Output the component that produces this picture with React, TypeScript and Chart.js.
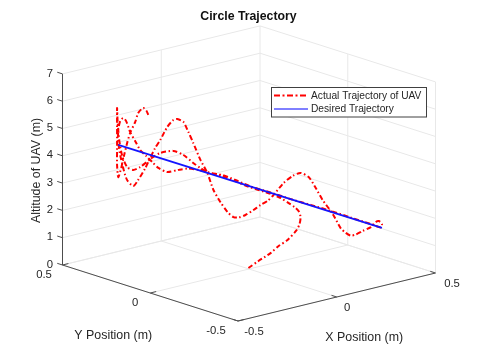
import React, { useEffect, useRef } from "react";
import { Chart, registerables } from "chart.js";

Chart.register(...registerables);

const FONT = '"Liberation Sans", Arial, sans-serif';
const chartTitle = "Circle Trajectory";
const xAxisTitle = "X Position (m)";
const yAxisTitle = "Y Position (m)";
const zAxisTitle = "Altitude of UAV (m)";
const actualLabel = "Actual Trajectory of UAV";
const desiredLabel = "Desired Trajectory";

const xTicks = [-0.5, 0, 0.5];
const yTicks = [0.5, 0, -0.5];
const zTicks = [0, 1, 2, 3, 4, 5, 6, 7];

// Trajectories, as X position and altitude on the plane Y = 0.
const actualX = [
  -0.003, 0.048, 0.109, 0.15, 0.195, 0.241, 0.256, 0.261, 0.251, 0.231, 0.201, 0.16, 0.109, 0.048, -0.013, -0.069,
  -0.135, -0.211, -0.256, -0.307, -0.358, -0.414, -0.459, -0.49, -0.52, -0.551, -0.571, -0.602, -0.622, -0.637,
  -0.652, -0.662, -0.662, -0.652, -0.637, -0.617, -0.586, -0.561, -0.525, -0.5, -0.475, -0.449, -0.414, -0.383,
  -0.363, -0.332, -0.307, -0.282, -0.246, -0.211, -0.18, -0.145, -0.109, -0.079, -0.053, -0.018, 0.023, 0.058,
  0.094, 0.124, 0.175, 0.221, 0.261, 0.302, 0.332, 0.373, 0.424, 0.464, 0.49, 0.515, 0.541, 0.576, 0.617, 0.642,
  0.657, 0.673, 0.668, 0.617, 0.515, 0.414, 0.312, 0.211, 0.109, 0.008, -0.069, -0.135, -0.211, -0.246, -0.282,
  -0.332, -0.383, -0.449, -0.5, -0.551, -0.586, -0.617, -0.642, -0.657, -0.665, -0.668, -0.668, -0.668, -0.668,
  -0.662, -0.647, -0.632, -0.617, -0.602, -0.576, -0.561, -0.536, -0.52, -0.51,
];
const actualZ = [
  0.04, 0.21, 0.39, 0.58, 0.72, 1.0, 1.2, 1.45, 1.68, 1.86, 2.06, 2.32, 2.56, 2.81, 3.06, 3.34, 3.64, 3.92, 4.08,
  4.22, 4.26, 4.28, 4.51, 4.78, 5.05, 5.33, 5.62, 6.08, 6.51, 6.65, 6.57, 6.26, 5.82, 5.32, 4.82, 4.34, 4.07, 4.25,
  4.62, 4.95, 5.27, 5.52, 5.93, 6.13, 6.13, 5.97, 5.56, 5.11, 4.43, 3.89, 3.21, 2.71, 2.28, 2.04, 1.98, 2.01, 2.12,
  2.24, 2.33, 2.49, 2.84, 3.02, 3.06, 2.84, 2.46, 1.87, 1.27, 0.68, 0.46, 0.32, 0.31, 0.38, 0.45, 0.59, 0.6, 0.47,
  0.35, 0.56, 0.98, 1.4, 1.8, 2.19, 2.61, 3.01, 3.38, 3.68, 3.92, 4.13, 4.38, 4.76, 5.0, 5.04, 4.91, 4.7, 4.66, 4.82,
  5.27, 5.88, 6.55, 7.07, 6.34, 5.53, 4.98, 4.53, 4.84, 5.29, 5.7, 6.04, 6.4, 6.7, 6.84, 6.72, 6.54,
];
const desiredX = [-0.662, 0.673];
const desiredZ = [5.71, 0.32];

type P = { x: number | null; y: number | null };

const project = (x: number, y: number, z: number): P => ({
  x: 1.975 * x - 1.755 * y,
  y: 0.48 * x + 0.56 * y + 0.273 * z,
});

const GAP: P = { x: null, y: null };
const xMin = xTicks[0];
const xMax = xTicks[xTicks.length - 1];
const yMax = yTicks[0];
const yMin = yTicks[yTicks.length - 1];
const zMax = zTicks[zTicks.length - 1];

function seg(a: number[], b: number[]): P[] {
  return [project(a[0], a[1], a[2]), project(b[0], b[1], b[2]), GAP];
}

function gridPoints(): P[] {
  const pts: P[] = [];
  for (const z of zTicks) {
    pts.push(...seg([xMin, yMax, z], [xMax, yMax, z]));
    pts.push(...seg([xMax, yMax, z], [xMax, yMin, z]));
  }
  for (const x of xTicks) {
    pts.push(...seg([x, yMin, 0], [x, yMax, 0]));
    if (x !== xMin) pts.push(...seg([x, yMax, 0], [x, yMax, zMax]));
  }
  for (const y of yTicks) {
    pts.push(...seg([xMin, y, 0], [xMax, y, 0]));
    if (y !== yMax) pts.push(...seg([xMax, y, 0], [xMax, y, zMax]));
  }
  return pts;
}

function axisPoints(): P[] {
  const pts: P[] = [];
  pts.push(...seg([xMin, yMin, 0], [xMax, yMin, 0]));
  pts.push(...seg([xMin, yMax, 0], [xMin, yMin, 0]));
  pts.push(...seg([xMin, yMax, 0], [xMin, yMax, zMax]));
  for (const z of zTicks) pts.push(...seg([xMin, yMax, z], [xMin, yMax + 0.03, z]));
  for (const x of xTicks) pts.push(...seg([x, yMin, 0], [x, yMin + 0.03, 0]));
  for (const y of yTicks) pts.push(...seg([xMin, y, 0], [xMin + 0.03, y, 0]));
  return pts;
}

const textPlugin = {
  id: "axisText",
  afterDatasetsDraw(chart: any) {
    const { ctx, scales } = chart;
    const at = (x: number, y: number, z: number) => {
      const p = project(x, y, z);
      return [scales.x.getPixelForValue(p.x), scales.y.getPixelForValue(p.y)];
    };
    ctx.save();
    ctx.fillStyle = "#262626";
    ctx.textBaseline = "middle";
    ctx.font = `11.3px ${FONT}`;
    ctx.textAlign = "right";
    for (const z of zTicks) {
      const [px, py] = at(xMin, yMax, z);
      ctx.fillText(String(z), px - 9.5, py - 0.5);
    }
    ctx.textAlign = "center";
    const yLabelDx = [-18.5, -15, -22];
    yTicks.forEach((y, i) => {
      const [px, py] = at(xMin, y, 0);
      ctx.fillText(String(y), px + yLabelDx[i], py + 10);
    });
    const xLabelDx = [16, 10.5, 16.5];
    xTicks.forEach((x, i) => {
      const [px, py] = at(x, yMin, 0);
      ctx.fillText(String(x), px + xLabelDx[i], py + 10.5);
    });
    ctx.font = `12.4px ${FONT}`;
    const [yx, yy] = at(xMin, 0, 0);
    ctx.fillText(yAxisTitle, yx - 37, yy + 42.5);
    const [xx, xy] = at(0, yMin, 0);
    ctx.fillText(xAxisTitle, xx + 27.5, xy + 40.5);
    const [zx, zy] = at(xMin, yMax, zMax / 2);
    ctx.save();
    ctx.translate(zx - 26, zy + 1);
    ctx.rotate(-Math.PI / 2);
    ctx.fillText(zAxisTitle, 0, 0);
    ctx.restore();

    const lx = 271.5;
    const ly = 87.5;
    ctx.fillStyle = "#ffffff";
    ctx.fillRect(lx, ly, 155, 29.5);
    ctx.strokeStyle = "#404040";
    ctx.lineWidth = 1;
    ctx.strokeRect(lx, ly, 155, 29.5);
    ctx.strokeStyle = "#ff0000";
    ctx.lineWidth = 2;
    ctx.setLineDash([6, 2.5, 2, 2.5]);
    ctx.beginPath();
    ctx.moveTo(lx + 2.5, ly + 8);
    ctx.lineTo(lx + 36.5, ly + 8);
    ctx.stroke();
    ctx.setLineDash([]);
    ctx.strokeStyle = "#0000ff";
    ctx.lineWidth = 1;
    ctx.beginPath();
    ctx.moveTo(lx + 2.5, ly + 21.5);
    ctx.lineTo(lx + 36.5, ly + 21.5);
    ctx.stroke();
    ctx.fillStyle = "#262626";
    ctx.textAlign = "left";
    ctx.font = `10.2px ${FONT}`;
    ctx.fillText(actualLabel, lx + 39.5, ly + 8.5);
    ctx.fillText(desiredLabel, lx + 39.5, ly + 22);
    ctx.restore();
  },
};

export default function App() {
  const ref = useRef<HTMLCanvasElement>(null);
  useEffect(() => {
    if (!ref.current) return;
    const line = (data: P[], extra: any) => ({
      type: "scatter",
      data,
      showLine: true,
      pointRadius: 0,
      fill: false,
      spanGaps: false,
      ...extra,
    });
    const chart = new Chart(ref.current, {
      type: "scatter",
      data: {
        datasets: [
          line(desiredX.map((x, i) => project(x, 0, desiredZ[i])), {
            label: desiredLabel,
            borderColor: "#1414ff",
            borderWidth: 1.8,
            order: 1,
          }),
          line(actualX.map((x, i) => project(x, 0, actualZ[i])), {
            label: actualLabel,
            borderColor: "#ff0000",
            borderWidth: 2,
            borderDash: [5, 2.5, 1.5, 2.5],
            tension: 0.25,
            order: 2,
          }),
          line(axisPoints(), { label: "Axes", borderColor: "#4d4d4d", borderWidth: 1, order: 3 }),
          line(gridPoints(), { label: "Grid", borderColor: "#e8e8e8", borderWidth: 1, order: 4 }),
        ] as any,
      },
      options: {
        responsive: false,
        animation: false,
        layout: { padding: { left: 17 } },
        scales: {
          x: { type: "linear", display: false, min: -2.32, max: 2.31 },
          y: { type: "linear", display: false, min: -0.91, max: 2.45 },
        },
        plugins: {
          legend: { display: false },
          tooltip: { enabled: false },
          title: {
            display: true,
            text: chartTitle,
            color: "#111111",
            fullSize: false,
            font: { family: FONT, size: 12.3, weight: "bold", lineHeight: 1 },
            padding: { top: 10.85, bottom: 0.85 },
          },
        },
      },
      plugins: [textPlugin],
    } as any);
    return () => chart.destroy();
  }, []);
  return (
    <div style={{ position: "fixed", left: 0, top: 0, width: 480, height: 360, background: "#fff" }}>
      <canvas ref={ref} width={480} height={360} style={{ display: "block", filter: "blur(0.4px)" }} />
    </div>
  );
}
